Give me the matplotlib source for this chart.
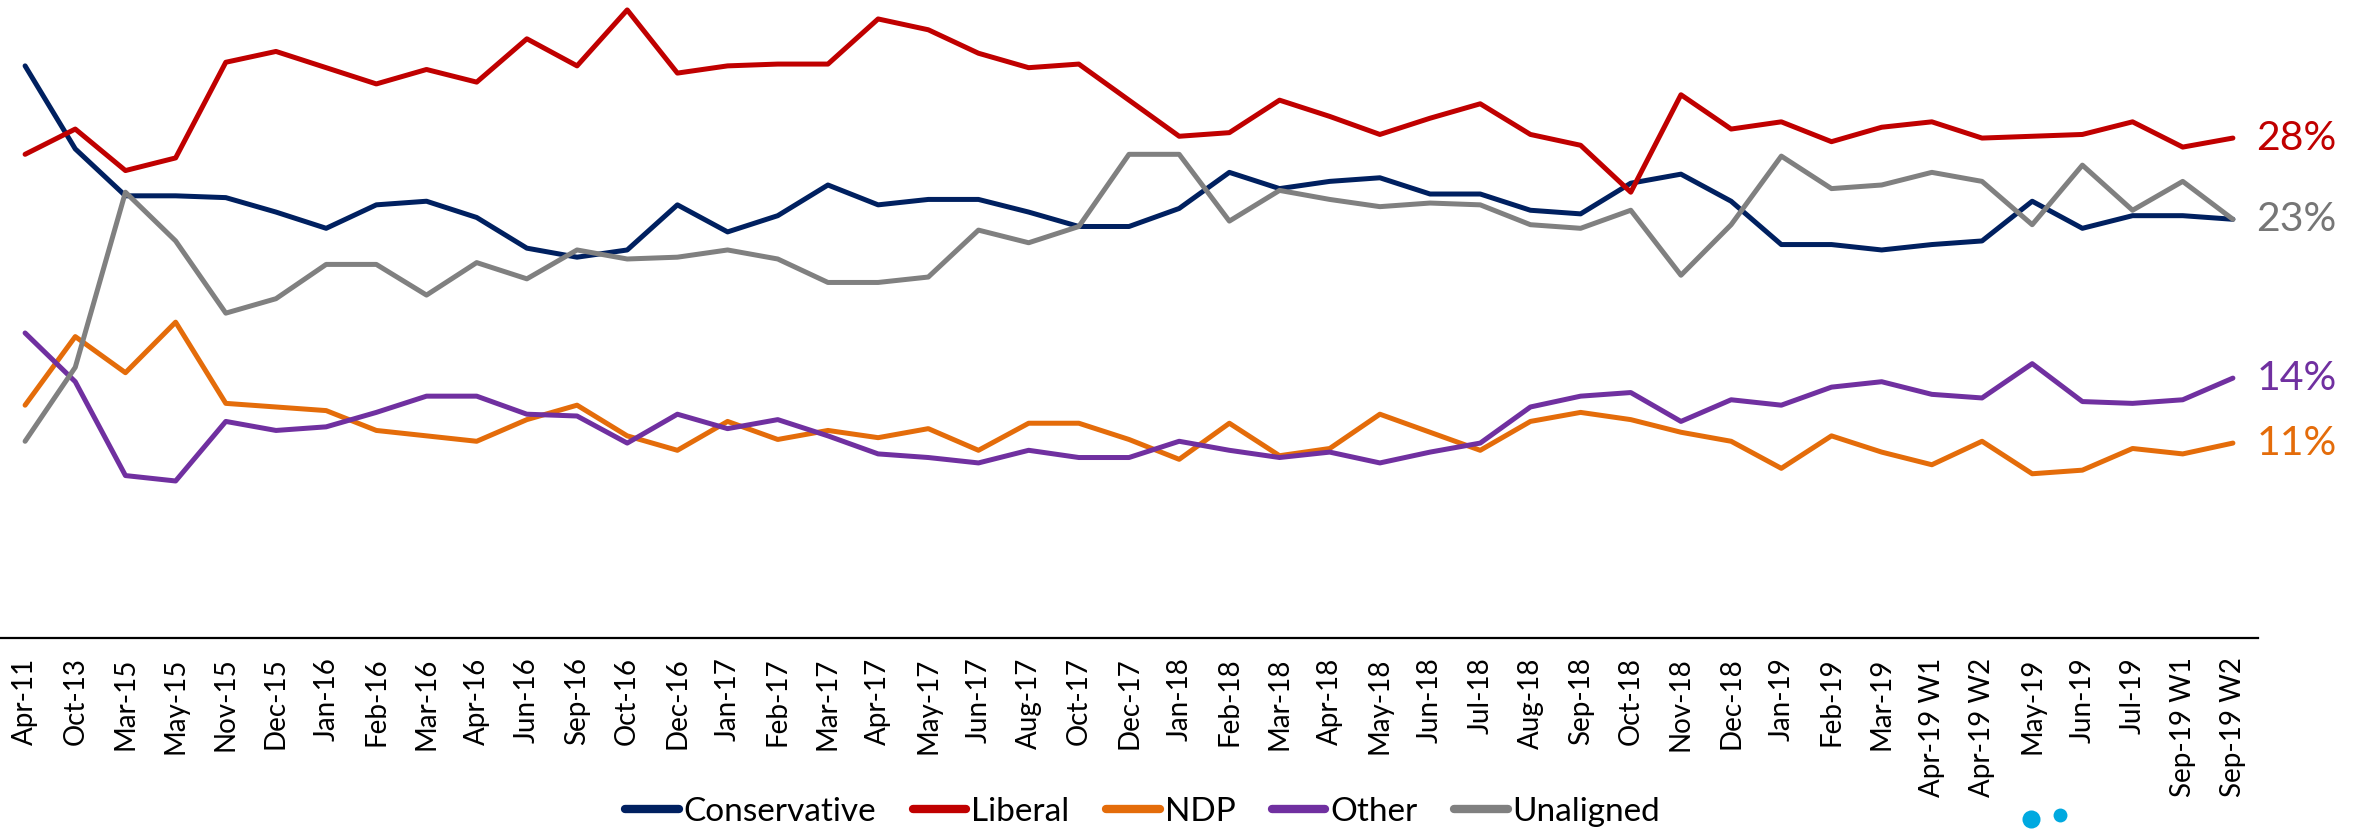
import matplotlib
matplotlib.use("Agg")
import matplotlib.pyplot as plt
import numpy as np

plt.rcParams['font.family'] = ['Lato', 'DejaVu Sans']

# kategoriler (x ekseni)
donemler = ["Apr-11", "Oct-13", "Mar-15", "May-15", "Nov-15", "Dec-15", "Jan-16", "Feb-16",
            "Mar-16", "Apr-16", "Jun-16", "Sep-16", "Oct-16", "Dec-16", "Jan-17", "Feb-17",
            "Mar-17", "Apr-17", "May-17", "Jun-17", "Aug-17", "Oct-17", "Dec-17", "Jan-18",
            "Feb-18", "Mar-18", "Apr-18", "May-18", "Jun-18", "Jul-18", "Aug-18", "Sep-18",
            "Oct-18", "Nov-18", "Dec-18", "Jan-19", "Feb-19", "Mar-19", "Apr-19 W1",
            "Apr-19 W2", "May-19", "Jun-19", "Jul-19", "Sep-19 W1", "Sep-19 W2"]

conservative = [31.7, 27.1, 24.5, 24.5, 24.4, 23.6, 22.7, 24.0, 24.2, 23.3, 21.6, 21.1, 21.5,
                24.0, 22.5, 23.4, 25.1, 24.0, 24.3, 24.3, 23.6, 22.8, 22.8, 23.8, 25.8, 24.9,
                25.3, 25.5, 24.6, 24.6, 23.7, 23.5, 25.2, 25.7, 24.2, 21.8, 21.8, 21.5, 21.8,
                22.0, 24.2, 22.7, 23.4, 23.4, 23.2]
liberal = [26.8, 28.2, 25.9, 26.6, 31.9, 32.5, 31.6, 30.7, 31.5, 30.8, 33.2, 31.7, 34.8,
           31.3, 31.7, 31.8, 31.8, 34.3, 33.7, 32.4, 31.6, 31.8, 29.8, 27.8, 28.0, 29.8,
           28.9, 27.9, 28.8, 29.6, 27.9, 27.3, 24.7, 30.1, 28.2, 28.6, 27.5, 28.3, 28.6,
           27.7, 27.8, 27.9, 28.6, 27.2, 27.7]
ndp = [12.9, 16.7, 14.7, 17.5, 13.0, 12.8, 12.6, 11.5, 11.2, 10.9, 12.1, 12.9, 11.2, 10.4,
       12.0, 11.0, 11.5, 11.1, 11.6, 10.4, 11.9, 11.9, 11.0, 9.9, 11.9, 10.1, 10.5, 12.4,
       11.4, 10.4, 12.0, 12.5, 12.1, 11.4, 10.9, 9.4, 11.2, 10.3, 9.6, 10.9, 9.1, 9.3,
       10.5, 10.2, 10.8]
other = [16.9, 14.2, 9.0, 8.7, 12.0, 11.5, 11.7, 12.5, 13.4, 13.4, 12.4, 12.3, 10.8, 12.4,
         11.6, 12.1, 11.2, 10.2, 10.0, 9.7, 10.4, 10.0, 10.0, 10.9, 10.4, 10.0, 10.3, 9.7,
         10.3, 10.8, 12.8, 13.4, 13.6, 12.0, 13.2, 12.9, 13.9, 14.2, 13.5, 13.3, 15.2, 13.1,
         13.0, 13.2, 14.4]
unaligned = [10.9, 15.0, 24.7, 22.0, 18.0, 18.8, 20.7, 20.7, 19.0, 20.8, 19.9, 21.5, 21.0,
             21.1, 21.5, 21.0, 19.7, 19.7, 20.0, 22.6, 21.9, 22.8, 26.8, 26.8, 23.1, 24.8,
             24.3, 23.9, 24.1, 24.0, 22.9, 22.7, 23.7, 20.1, 22.9, 26.7, 24.9, 25.1, 25.8,
             25.3, 22.9, 26.2, 23.7, 25.3, 23.2]

seriler = [("Conservative", conservative, "#002060", False),
           ("Liberal", liberal, "#C00000", True),
           ("NDP", ndp, "#E46C0A", True),
           ("Other", other, "#7030A0", True),
           ("Unaligned", unaligned, "#808080", True)]
etiket_renkleri = {"Liberal": "#C00000", "NDP": "#E46C0A", "Other": "#7030A0",
                   "Unaligned": "#767676"}

fig = plt.figure(figsize=(23.59, 8.32), dpi=100)
ax = fig.add_axes([0.0, 194 / 832, 2258 / 2359, 638 / 832])

x = np.arange(len(donemler))
for isim, degerler, renk, etiketli in seriler:
    ax.plot(x, degerler, color=renk, lw=3.6, label=isim, solid_capstyle="round")
    if etiketli:
        son = degerler[-1]
        ax.annotate(f"{round(son)}%", xy=(x[-1], son), xytext=(17, 0),
                    textcoords="offset points", va="center", ha="left",
                    fontsize=29.5, color=etiket_renkleri[isim], annotation_clip=False)

ax.set_xlim(-0.5, len(donemler) - 0.5)
ax.set_ylim(0, 35.35)
ax.set_xticks(x)
ax.set_xticklabels(donemler, rotation=90, fontsize=20, va="top")
ax.tick_params(axis="x", length=0, pad=14)
ax.set_yticks([])
for kenar in ["top", "left", "right"]:
    ax.spines[kenar].set_visible(False)
ax.spines["bottom"].set_linewidth(1.6)
ax.spines["bottom"].set_color("black")

leg = fig.legend(loc="center", bbox_to_anchor=(0.4845, 0.024), ncol=5, frameon=False,
                 fontsize=24, handlelength=1.6, handletextpad=0.15, columnspacing=1.1)
for cizgi in leg.get_lines():
    cizgi.set_linewidth(6)

# sag alttaki logo parcasi
ax.plot([2031 / 2359], [13 / 832], "o", color="#00A9E0", ms=13, mec="none",
        transform=fig.transFigure, clip_on=False)
ax.plot([2060 / 2359], [17 / 832], "o", color="#00A9E0", ms=10, mec="none",
        transform=fig.transFigure, clip_on=False)

fig.savefig("out.png", dpi=100)
